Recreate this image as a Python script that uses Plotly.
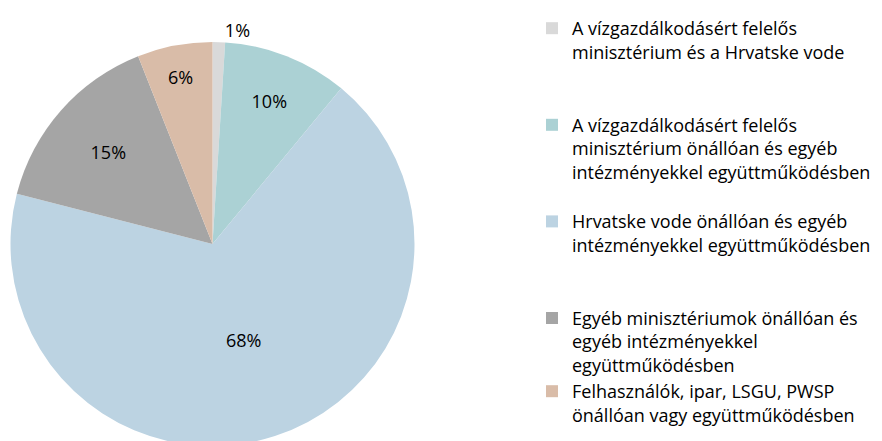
import plotly.graph_objects as go

labels = [
    "A vízgazdálkodásért felelős<br>minisztérium és a Hrvatske vode<br> <br> ",
    "A vízgazdálkodásért felelős<br>minisztérium önállóan és egyéb<br>intézményekkel együttműködésben<br> ",
    "Hrvatske vode önállóan és egyéb<br>intézményekkel együttműködésben<br> <br> ",
    "Egyéb minisztériumok önállóan és<br>egyéb intézményekkel<br>együttműködésben",
    "Felhasználók, ipar, LSGU, PWSP<br>önállóan vagy együttműködésben",
]
values = [1, 10, 68, 15, 6]
colors = ["#D9D9D9", "#ABD1D4", "#BCD3E2", "#A5A5A5", "#D9BCA8"]
textpos = ["outside", "inside", "inside", "inside", "inside"]

FONT = "Open Sans"
W, H = 882, 449  # page body has an 8px offset; bottom overflow is hidden

fig = go.Figure(go.Pie(
    labels=labels,
    values=values,
    sort=False,
    direction="clockwise",
    rotation=0,
    marker=dict(colors=colors, line=dict(width=0)),
    texttemplate="%{value}%",
    textposition=textpos,
    insidetextorientation="horizontal",
    textfont=dict(family=FONT, size=18, color="#000000"),
    domain=dict(x=[2.5/W, 406.5/W], y=[11/H, 415/H]),
    hoverinfo="skip",
))

fig.update_layout(
    width=W, height=H,
    margin=dict(l=0, r=0, t=0, b=0, autoexpand=False),
    paper_bgcolor="white",
    plot_bgcolor="white",
    showlegend=True,
    legend=dict(
        x=524/W, y=1 - 2/H, xanchor="left", yanchor="top",
        font=dict(family=FONT, size=18, color="#000000"),
        itemwidth=30,
        valign="top",
        tracegroupgap=0,
        bgcolor="rgba(0,0,0,0)",
    ),
)

fig.write_html("out.html")
